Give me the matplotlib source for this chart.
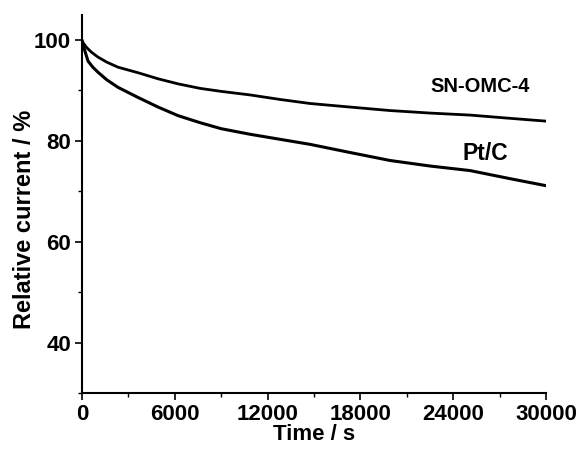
import matplotlib.pyplot as plt
import numpy as np

plt.rcParams['font.family'] = ['Liberation Sans', 'DejaVu Sans']
plt.rcParams['font.weight'] = 'bold'

# time (s) and relative current (%)
t_sn = [0, 100, 300, 600, 1034, 1600, 2327, 3620, 4914, 6200, 7629, 9000, 10862,
        12800, 14741, 17300, 19914, 22500, 25086, 27500, 30000]
i_sn = [100.0, 99.3, 98.5, 97.6, 96.6, 95.6, 94.6, 93.5, 92.3, 91.3, 90.4, 89.8, 89.1,
        88.2, 87.4, 86.7, 86.0, 85.5, 85.1, 84.5, 83.9]

t_pt = [0, 60, 170, 390, 700, 1034, 1600, 2327, 3620, 4914, 6200, 7629, 9000, 10862,
        12800, 14741, 17300, 19914, 22500, 25086, 27500, 30000]
i_pt = [99.5, 99.0, 98.0, 95.8, 94.6, 93.6, 92.1, 90.6, 88.6, 86.7, 85.0, 83.6, 82.4, 81.3,
        80.3, 79.3, 77.7, 76.1, 75.0, 74.1, 72.6, 71.1]

fig = plt.figure(figsize=(5.79, 4.53), dpi=100)
ax = fig.add_axes([0.1416, 0.1325, 0.8014, 0.835])

ax.plot(t_sn, i_sn, color='black', lw=2.0)
ax.plot(t_pt, i_pt, color='black', lw=2.2)

ax.set_xlim(0, 30000)
ax.set_ylim(30, 105)
ax.set_xticks(np.arange(0, 30001, 6000))
ax.set_xticks(np.arange(0, 30001, 3000), minor=True)
ax.set_yticks([40, 60, 80, 100])
ax.set_yticks(np.arange(30, 101, 10), minor=True)

for s in ['top', 'right']:
    ax.spines[s].set_visible(False)
for s in ['left', 'bottom']:
    ax.spines[s].set_linewidth(1.5)

ax.tick_params(axis='both', which='major', labelsize=16, width=1.2, length=5, pad=3)
ax.tick_params(axis='both', which='minor', width=1.0, length=3)
for lab in ax.get_xticklabels() + ax.get_yticklabels():
    lab.set_fontweight('bold')

ax.set_xlabel('Time / s', fontsize=16, fontweight='bold', labelpad=-1)
ax.set_ylabel('Relative current / %', fontsize=17, fontweight='bold')
ax.yaxis.set_label_coords(-0.1, 0.458)

ax.text(25733, 90.8, 'SN-OMC-4', fontsize=14.5, fontweight='bold', ha='center', va='center')
ax.text(26056, 77.5, 'Pt/C', fontsize=16.5, fontweight='bold', ha='center', va='center')

fig.savefig('out.png', dpi=100)
